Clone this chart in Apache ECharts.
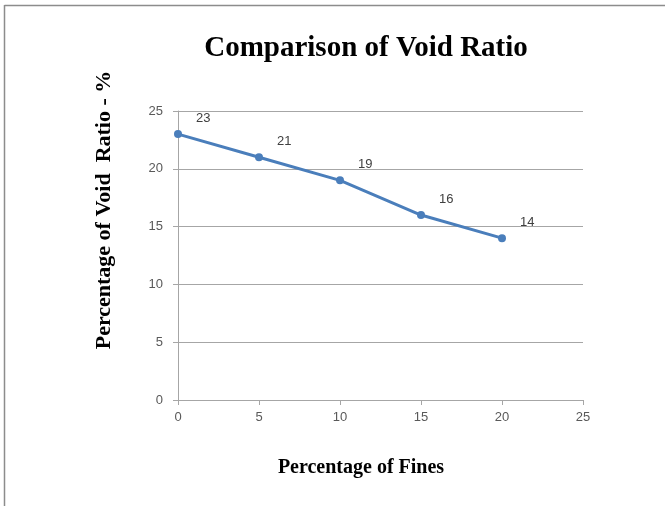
<!DOCTYPE html>
<html><head><meta charset="utf-8">
<script src="https://cdn.jsdelivr.net/npm/echarts@6/dist/echarts.min.js"></script>
<style>html,body{margin:0;padding:0;background:#fff}#c{width:665px;height:506px}</style>
</head><body><div id="c"></div>
<script>
const fines = [0, 5, 10, 15, 20];
const voidRatio = [23, 21, 19, 16, 14];
const xTicks = [0, 5, 10, 15, 20, 25];
const yTicks = [0, 5, 10, 15, 20, 25];
const titleText = 'Comparison of Void Ratio';
const xName = 'Percentage of Fines';
const yName = 'Percentage of Void  Ratio - %';

const chart = echarts.init(document.getElementById('c'));
chart.setOption({
  backgroundColor: '#fff',
  animation: false,
  graphic: [
    {type: 'line', shape: {x1: 4.5, y1: 5.5, x2: 665, y2: 5.5}, style: {stroke: '#8c8c8c', lineWidth: 1.5}},
    {type: 'line', shape: {x1: 4.5, y1: 5, x2: 4.5, y2: 506}, style: {stroke: '#8c8c8c', lineWidth: 1.5}},
    {type: 'text', x: 104, y: 210, rotation: Math.PI / 2,
      style: {text: yName, fontFamily: 'Liberation Serif', fontWeight: 'bold', fontSize: 22, fill: '#000',
        textAlign: 'center', textVerticalAlign: 'middle'}},
    {type: 'text', x: 361, y: 468,
      style: {text: xName, fontFamily: 'Liberation Serif', fontWeight: 'bold', fontSize: 20, fill: '#000',
        textAlign: 'center', textVerticalAlign: 'middle'}}
  ],
  title: {
    text: titleText,
    left: 361, top: 29, textAlign: 'center',
    textStyle: {fontFamily: 'Liberation Serif', fontWeight: 'bold', fontSize: 29, color: '#000'}
  },
  grid: {left: 178, right: 82, top: 111, bottom: 106},
  xAxis: {
    type: 'value', min: 0, max: 25, interval: 5,
    axisLine: {show: true, lineStyle: {color: '#a6a6a6'}},
    axisTick: {show: true, length: 5, lineStyle: {color: '#a6a6a6'}},
    axisLabel: {color: '#595959', fontSize: 13, fontFamily: 'Liberation Sans', margin: 11,
      formatter: v => xTicks.includes(v) ? String(v) : ''},
    splitLine: {show: false}
  },
  yAxis: {
    type: 'value', min: 0, max: 25, interval: 5,
    axisLine: {show: true, lineStyle: {color: '#a6a6a6'}},
    axisTick: {show: true, length: 5, lineStyle: {color: '#a6a6a6'}},
    axisLabel: {color: '#595959', fontSize: 13, fontFamily: 'Liberation Sans', margin: 15,
      formatter: v => yTicks.includes(v) ? String(v) : ''},
    splitLine: {show: true, lineStyle: {color: '#a6a6a6'}}
  },
  series: [{
    type: 'line',
    data: fines.map((x, i) => [x, voidRatio[i]]),
    symbol: 'circle', symbolSize: 8,
    lineStyle: {color: '#4a7ebb', width: 3},
    itemStyle: {color: '#4a7ebb'},
    label: {show: true, position: 'right', offset: [9, -16], color: '#404040', fontSize: 13,
      fontFamily: 'Liberation Sans', formatter: p => String(p.value[1])}
  }]
});
</script></body></html>
